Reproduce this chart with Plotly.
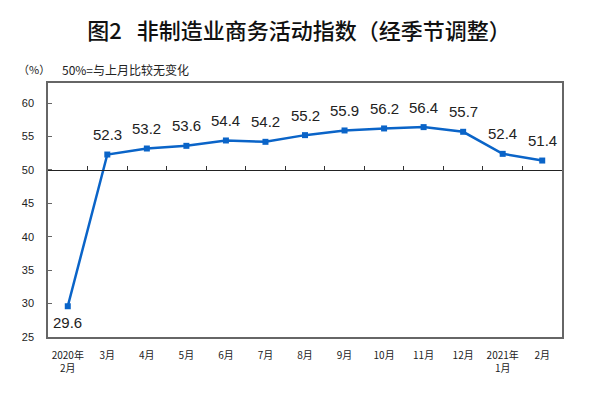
import plotly.graph_objects as go

months = ["2020年<br>2月", "3月", "4月", "5月", "6月", "7月", "8月", "9月",
          "10月", "11月", "12月", "2021年<br>1月", "2月"]
values = [29.6, 52.3, 53.2, 53.6, 54.4, 54.2, 55.2, 55.9, 56.2, 56.4, 55.7, 52.4, 51.4]
y_ticks = [25, 30, 35, 40, 45, 50, 55, 60]

idx = list(range(len(months)))

Y_MIN, Y_MAX = 25, 63
blue = "#0a64c8"
W, H = 598, 394
ML, MR, MT, MB = 48, 36, 83, 57

fig = go.Figure()
fig.add_trace(go.Scatter(
    x=idx, y=values, mode="lines+markers",
    line=dict(color=blue, width=2.5),
    marker=dict(symbol="square", size=6, color=blue),
    cliponaxis=False, showlegend=False, xaxis="x", yaxis="y",
))
# invisible trace so the secondary axis (line at 50) renders
fig.add_trace(go.Scatter(x=[idx[0]], y=[values[0]], mode="markers",
                         marker=dict(opacity=0), showlegend=False,
                         xaxis="x2", yaxis="y", hoverinfo="skip"))

pos50 = (50 - Y_MIN) / (Y_MAX - Y_MIN)

anns = []
for i, v in zip(idx, values):
    anns.append(dict(x=i, y=v, xref="x", yref="y", text=f"{v:.1f}",
                     showarrow=False, xanchor="center", yanchor="middle",
                     yshift=(-16 if v < 50 else 20),
                     font=dict(family="Liberation Sans, Arial", size=15, color="#222")))

pw, ph = W - ML - MR, H - MT - MB
for txt, px, py, fs in [("（%）", 16, 69, 11), ("50%=与上月比较无变化", 60, 69, 12)]:
    anns.append(dict(text=txt, xref="paper", yref="paper",
                     x=(px - ML) / pw, y=(H - MB - py) / ph,
                     xanchor="left", yanchor="middle", showarrow=False,
                     font=dict(family="Noto Sans CJK SC", size=fs, color="#222")))

fig.update_layout(
    width=W, height=H,
    margin=dict(l=ML, r=MR, t=MT, b=MB),
    paper_bgcolor="white", plot_bgcolor="white",
    title=dict(text="图2\u00a0\u00a0\u00a0非制造业商务活动指数（经季节调整）",
               x=0.5, xanchor="center", y=(H - 31) / H, yanchor="middle",
               font=dict(family="Noto Sans CJK SC", size=22, color="#111", weight=500)),
    xaxis=dict(range=[-0.5, len(months) - 0.5], tickmode="array",
               tickvals=idx, ticktext=months, ticks="", automargin=False,
               ticklabelstandoff=8,
               showline=True, linecolor="#666", linewidth=1.5, mirror=True,
               showgrid=False, zeroline=False,
               tickfont=dict(family="Noto Sans CJK SC", size=10, color="#222")),
    xaxis2=dict(range=[-0.5, len(months) - 0.5], overlaying="x",
                anchor="free", position=pos50, side="bottom",
                tickmode="array", tickvals=[i + 0.5 for i in idx[:-1]],
                ticks="inside", ticklen=4, tickcolor="#333", automargin=False,
                showticklabels=False, showline=True, linecolor="#222",
                linewidth=1, showgrid=False, zeroline=False),
    yaxis=dict(range=[Y_MIN, Y_MAX], tickmode="array", tickvals=y_ticks,
               ticks="inside", ticklen=4, tickcolor="#666", automargin=False,
               ticklabelstandoff=10,
               showline=True, linecolor="#666", linewidth=1.5, mirror=True,
               showgrid=False, zeroline=False,
               tickfont=dict(family="Liberation Sans, Arial", size=11, color="#222")),
    annotations=anns,
)

fig.write_html("out.html", config={"displayModeBar": False},
               post_script="document.body.style.margin='0';")
